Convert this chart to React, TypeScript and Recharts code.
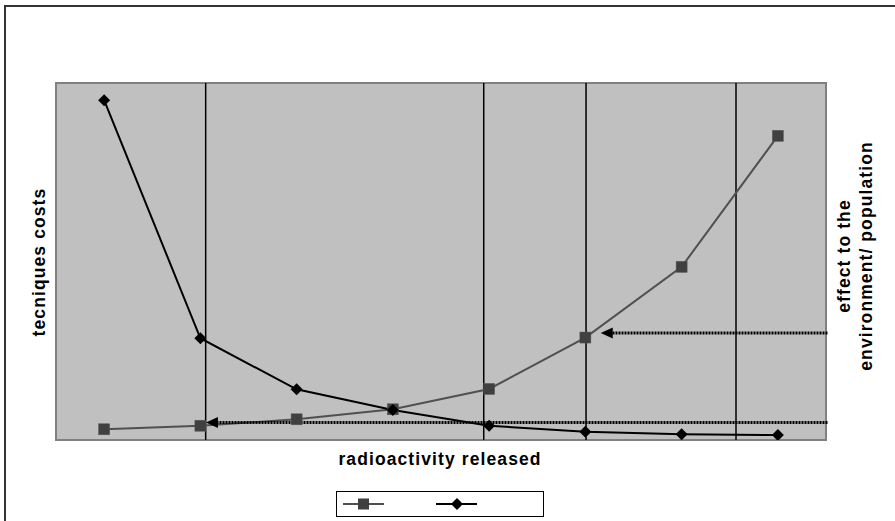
import React from 'react';
import { ComposedChart, Line, XAxis, YAxis, ReferenceLine, ReferenceArea, Legend } from 'recharts';

const categories = ['1', '2', '3', '4', '5', '6', '7', '8'];
const squareSeries = [3.0, 4.0, 5.8, 8.6, 14.3, 28.7, 48.5, 85.2];
const diamondSeries = [95.2, 28.5, 14.2, 8.4, 4.0, 2.3, 1.6, 1.4];
const dividerPositions = [1.555, 4.444, 5.507, 7.065];
const arrowStarts = [8, 8];
const arrowTips = [5.66, 1.558];
const arrowLevels = [30.0, 4.9];

// each category sits in the middle of its unit-wide slot on a numeric axis [0, categories.length]
const data = categories.map((c, i) => ({ cat: c, pos: i + 0.5, sq: squareSeries[i], dm: diamondSeries[i] }));

const FONT = '"Liberation Sans", Arial, sans-serif';

const SquareDot = (props: any) => {
  const { cx, cy, index } = props;
  if (cx == null || cy == null) return <g key={`s${index}`} />;
  return <rect key={`s${index}`} x={cx - 5.5} y={cy - 5.5} width={11} height={11} fill="#404040" stroke="#555" strokeWidth={0.5} />;
};

const DiamondDot = (props: any) => {
  const { cx, cy, index } = props;
  if (cx == null || cy == null) return <g key={`d${index}`} />;
  return <polygon key={`d${index}`} points={`${cx},${cy - 6} ${cx + 6},${cy} ${cx},${cy + 6} ${cx - 6},${cy}`} fill="#000" />;
};

const ArrowShape = (props: any) => {
  const { x1, y1, x2, y2 } = props;
  return (
    <g>
      <line x1={x1 + 1.5} y1={y1} x2={x2 + 10} y2={y2} stroke="#000" strokeWidth={3} strokeDasharray="2 1" />
      <polygon points={`${x2},${y2} ${x2 + 12},${y2 - 5.5} ${x2 + 12},${y2 + 5.5}`} fill="#000" />
    </g>
  );
};

const LegendContent = () => (
  <svg width={206} height={24} style={{ display: 'block' }}>
    <line x1={6} y1={12} x2={47} y2={12} stroke="#505050" strokeWidth={2} />
    <rect x={21} y={6.5} width={11} height={11} fill="#404040" />
    <line x1={99} y1={12} x2={140} y2={12} stroke="#000" strokeWidth={2} />
    <polygon points="120,6 126,12 120,18 114,12" fill="#000" />
  </svg>
);

export default function App() {
  return (
    <div style={{ position: 'absolute', left: 0, top: 0, width: 895, height: 521, background: '#fff', overflow: 'hidden' }}>
      <div style={{ position: 'absolute', left: 4, top: 5, width: 1000, height: 1000, border: '2px solid #333', boxSizing: 'border-box' }} />
      <div style={{ position: 'absolute', left: 0, top: 0 }}>
        <ComposedChart width={895} height={521} data={data} margin={{ top: 83, left: 56, right: 69, bottom: 55 }}>
          <XAxis dataKey="pos" type="number" domain={[0, categories.length]} hide allowDataOverflow />
          <YAxis domain={[0, 100]} hide allowDataOverflow />
          <ReferenceArea x1={0} x2={categories.length} y1={0} y2={100} fill="#C0C0C0" fillOpacity={1} stroke="#808080" strokeWidth={2} ifOverflow="visible" />
          {dividerPositions.map((p, i) => (
            <ReferenceLine key={`v${i}`} x={p} stroke="#000" strokeWidth={1.5} />
          ))}
          <Line dataKey="sq" name=" " stroke="#505050" strokeWidth={2} dot={SquareDot} isAnimationActive={false} />
          <Line dataKey="dm" name=" " stroke="#000" strokeWidth={2} dot={DiamondDot} isAnimationActive={false} />
          {arrowTips.map((t, i) => (
            <ReferenceLine
              key={`a${i}`}
              ifOverflow="visible"
              segment={[{ x: arrowStarts[i], y: arrowLevels[i] }, { x: t, y: arrowLevels[i] }]}
              shape={ArrowShape}
            />
          ))}
          <Legend
            content={LegendContent}
            wrapperStyle={{ position: 'absolute', left: 336, top: 491, width: 206, height: 24, border: '1px solid #000', background: '#fff', boxSizing: 'content-box' }}
          />
        </ComposedChart>
      </div>
      <svg width={895} height={521} style={{ position: 'absolute', left: 0, top: 0, pointerEvents: 'none' }}>
        <g fontFamily={FONT} fontWeight="bold" fontSize={17.5} fill="#000" letterSpacing={1.1}>
          <text transform="translate(39,262) rotate(-90)" textAnchor="middle" dominantBaseline="central">tecniques costs</text>
          <text x={440} y={459} textAnchor="middle" dominantBaseline="central">radioactivity released</text>
          <text transform="translate(844,256) rotate(-90)" textAnchor="middle" dominantBaseline="central">effect to the</text>
          <text transform="translate(866,256) rotate(-90)" textAnchor="middle" dominantBaseline="central">environment/ population</text>
        </g>
      </svg>
    </div>
  );
}
